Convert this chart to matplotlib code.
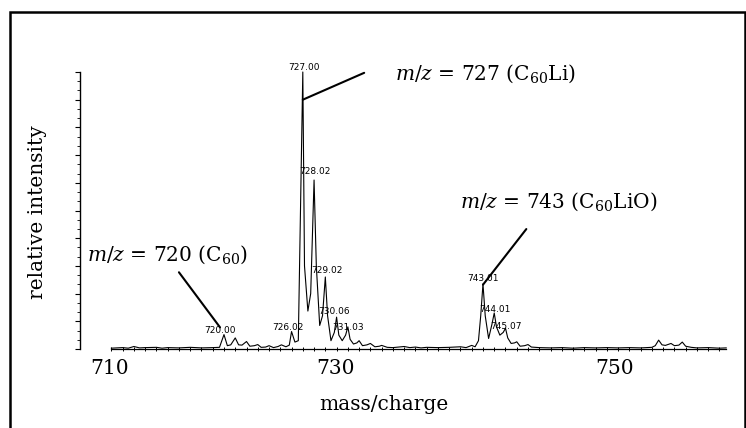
import matplotlib
matplotlib.use("Agg")
import matplotlib.pyplot as plt
import matplotlib.patches as patches
from matplotlib.ticker import MultipleLocator

# spectrum: m/z and relative intensity (%)
mz = [710.0, 711.0, 711.5, 712.0, 712.5, 713.0, 714.0, 714.5, 715.0, 716.0, 717.0, 718.0, 719.0, 719.6,
      720.0, 720.3, 720.6, 721.0, 721.3, 721.6, 722.0, 722.3, 722.7, 723.0, 723.3, 723.7, 724.0, 724.4,
      724.8, 725.1, 725.5, 725.8, 726.0, 726.3, 726.6,
      727.0, 727.15, 727.45, 727.7, 728.0, 728.2, 728.5, 728.75, 729.0, 729.2, 729.5, 729.8, 730.0,
      730.2, 730.5, 730.8, 731.0, 731.2, 731.5, 731.8, 732.0, 732.3, 732.7, 733.0, 733.4, 733.8, 734.0,
      734.5, 735.0, 736.0, 736.5, 737.0, 737.5, 738.0, 739.0, 740.0, 741.0, 741.5, 742.0, 742.3, 742.6,
      742.8, 743.0, 743.2, 743.5, 743.8, 744.0, 744.2, 744.5, 744.8, 745.0, 745.2, 745.5, 745.8, 746.0,
      746.3, 746.7, 747.0, 747.3, 748.0, 749.0, 750.0, 751.0, 752.0, 753.0, 754.0, 755.0, 756.0, 757.0,
      758.0, 758.3, 758.6, 758.9, 759.2, 759.7, 760.0, 760.4, 760.7, 761.0, 761.5, 762.0, 763.0, 764.0, 764.6]
intensity = [0.3, 0.5, 0.3, 0.9, 0.4, 0.5, 0.6, 0.3, 0.5, 0.4, 0.6, 0.4, 0.5, 0.6,
             5.2, 1.2, 1.5, 4.0, 1.5, 1.4, 2.7, 1.0, 1.2, 1.6, 0.6, 0.7, 1.2, 0.5,
             0.9, 1.5, 0.8, 1.4, 6.3, 2.5, 3.0,
             100.0, 30.0, 13.7, 20.0, 61.0, 30.0, 8.5, 12.0, 26.0, 12.0, 3.0, 6.0, 11.5,
             5.0, 3.0, 5.0, 8.0, 3.5, 1.8, 2.2, 3.0, 1.2, 1.5, 2.0, 0.8, 1.0, 1.3,
             0.6, 0.5, 0.9, 0.5, 0.7, 0.4, 0.6, 0.5, 0.6, 0.8, 0.5, 1.3, 0.8, 3.0,
             12.0, 23.5, 12.0, 3.8, 9.0, 13.0, 8.0, 5.0, 6.0, 7.5, 4.0, 2.0, 2.2, 2.6,
             1.0, 1.2, 1.6, 0.7, 0.5, 0.4, 0.5, 0.3, 0.5, 0.4, 0.5, 0.4, 0.5, 0.4,
             0.6, 1.2, 3.2, 1.5, 1.3, 2.0, 1.2, 1.4, 2.5, 1.0, 0.6, 0.4, 0.5, 0.3, 0.4]

# peak labels printed on the spectrum and where they sit
peak_labels = ["720.00", "726.02", "727.00", "728.02", "729.02", "730.06", "731.03",
               "743.01", "744.01", "745.07"]
peak_label_x = [719.6, 725.7, 727.1, 728.1, 729.1, 729.8, 731.0, 743.0, 744.1, 745.05]
peak_label_y = [6.5, 7.9, 101.8, 63.9, 28.5, 13.4, 7.9, 25.3, 14.4, 8.3]

# assignments: (peak point, far end of the leader line)
assign_text = [r"$m/z$ = 727 (C$_{60}$Li)", r"$m/z$ = 743 (C$_{60}$LiO)", r"$m/z$ = 720 (C$_{60}$)"]
assign_peak = [(727.0, 90.0), (743.0, 23.2), (719.65, 7.8)]
assign_end = [(732.45, 99.7), (746.85, 43.3), (716.0, 27.7)]

xtick_labels = ["710", "730", "750"]

plt.rcParams["mathtext.fontset"] = "dejavuserif"

W, H = 746, 428
fig = plt.figure(figsize=(W / 100, H / 100), dpi=100)

# axes placed so that 710 sits at x=111 px and the baseline at y=349 px
ax = fig.add_axes([77.6 / W, (H - 349) / H, 653.1 / W, 277 / H])
ax.set_xlim(707.0, 765.0)
ax.set_ylim(0, 100)
ax.patch.set_alpha(0)

ax.plot(mz, intensity, color="black", lw=0.8, clip_on=False)

for spine in ["top", "right"]:
    ax.spines[spine].set_visible(False)
ax.spines["left"].set_position(("data", 707.2))
ax.spines["left"].set_bounds(0, 100)
ax.spines["bottom"].set_bounds(710, 764.6)
ax.spines["left"].set_linewidth(1.0)
ax.spines["bottom"].set_linewidth(0.9)

ax.xaxis.set_major_locator(MultipleLocator(1))
ax.set_xticks([t for t in range(710, 765)])
ax.tick_params(axis="x", direction="inout", length=3, width=0.7, labelbottom=False)
ax.yaxis.set_major_locator(MultipleLocator(10))
ax.yaxis.set_minor_locator(MultipleLocator(10 / 3))
ax.tick_params(axis="y", which="major", direction="out", length=3.5, width=0.8, labelleft=False)
ax.tick_params(axis="y", which="minor", direction="out", length=2, width=0.6)

for lab, x, y in zip(peak_labels, peak_label_x, peak_label_y):
    ax.text(x, y, lab, fontsize=6.5, family="DejaVu Sans", ha="center", va="center",
            clip_on=False)

for (px, py), (ex, ey) in zip(assign_peak, assign_end):
    ax.annotate("", xy=(px, py), xytext=(ex, ey),
                arrowprops=dict(arrowstyle="-", lw=1.5, color="black", shrinkA=0, shrinkB=0),
                annotation_clip=False)

serif = dict(family="DejaVu Serif", fontsize=14.5, color="black")

# assignment texts (figure pixels: left edge, baseline)
for txt, (tx, ty) in zip(assign_text, [(395, 80), (460, 208), (87, 260.5)]):
    fig.text(tx / W, 1 - ty / H, txt, ha="left", va="baseline", **serif)

# tick labels as they are printed on the figure
for lab, tx in zip(xtick_labels, [110, 335, 615]):
    fig.text(tx / W, 1 - 374 / H, lab, ha="center", va="baseline", **serif)

fig.text(383.5 / W, 1 - 410 / H, "mass/charge", ha="center", va="baseline", **serif)
fig.text(38 / W, 1 - 212 / H, "relative intensity", rotation=90, ha="center", va="center", **serif)

# outer frame
frame = patches.Rectangle((10 / W, -0.05), (744.5 - 10) / W, 1.05 - 12 / H,
                          transform=fig.transFigure, fill=False, lw=1.8, edgecolor="black")
fig.patches.append(frame)

fig.savefig("out.png", dpi=100)
